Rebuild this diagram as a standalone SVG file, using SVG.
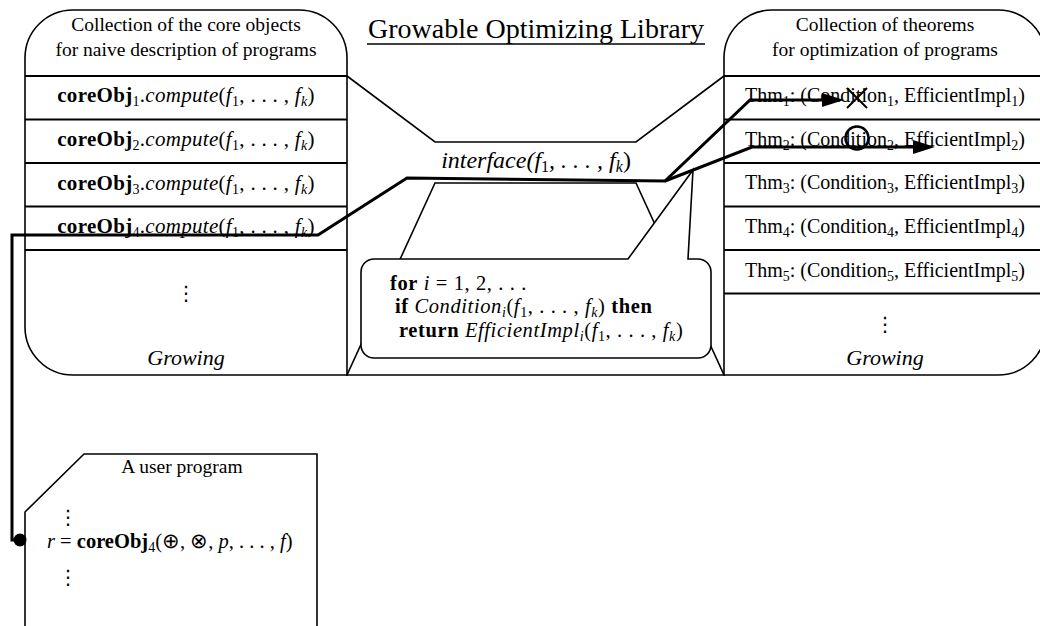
<svg xmlns="http://www.w3.org/2000/svg" width="1040" height="626" viewBox="0 0 1040 626">
  <style>
    .ln { fill: #fff; stroke: #000; stroke-width: 1.6; stroke-linejoin: miter; }
    .open { fill: none; stroke: #000; stroke-width: 1.6; }
    .row { stroke: #000; stroke-width: 1.8; }
    .t { font-family: "Liberation Serif", "Times New Roman", serif; font-size: 19.5px; fill: #000; }
    .m { font-size: 21px; letter-spacing: 0.3px; }
    .u { font-size: 20.5px; }
    .thm { font-size: 20px; }
    .code { font-size: 20.5px; letter-spacing: 0.6px; }
    .b { font-weight: bold; }
    .i { font-style: italic; }
    .sub { font-size: 14px; }
    .dots { font-family: "DejaVu Sans", sans-serif; font-size: 20px; fill: #000; }
    .wire { fill: none; stroke: #000; stroke-width: 3; stroke-linejoin: miter; }
  </style>
  <defs>
    <marker id="head" markerUnits="userSpaceOnUse" markerWidth="24" markerHeight="16" refX="10" refY="8" orient="auto" viewBox="0 0 24 16">
      <path d="M0,1 L22,8 L0,15 Z" fill="#000"/>
    </marker>
  </defs>

  <rect width="1040" height="626" fill="#fff"/>

  <!-- title -->
  <g id="title">
    <text class="t" x="536" y="38" text-anchor="middle" style="font-size:28px">Growable Optimizing Library</text>
    <line x1="367" y1="44" x2="705" y2="44" stroke="#000" stroke-width="1.6"/>
  </g>

  <!-- funnel between the two collections -->
  <g id="funnel">
    <polygon class="ln" points="435,183 636,183 724,375 347,375"/>
    <polyline class="open" points="347,76 435,142 636,142 724,76"/>
    <text class="t i" x="536" y="168" text-anchor="middle" style="font-size:24px">interface(<tspan>f</tspan><tspan style="font-style:normal;font-size:16px" dy="4">1</tspan><tspan dy="-4">, . . . , </tspan><tspan>f</tspan><tspan style="font-size:16px" dy="4">k</tspan><tspan dy="-4" style="font-style:normal">)</tspan></text>
  </g>

  <!-- collection of core objects -->
  <g id="core-objects">
    <path class="ln" d="M25,58 A48,48 0 0 1 73,10 L299,10 A48,48 0 0 1 347,58 L347,375 L73,375 A48,48 0 0 1 25,327 Z"/>
    <line class="row" x1="25" y1="76" x2="347" y2="76"/>
    <line class="row" x1="25" y1="119.5" x2="347" y2="119.5"/>
    <line class="row" x1="25" y1="163" x2="347" y2="163"/>
    <line class="row" x1="25" y1="206.5" x2="347" y2="206.5"/>
    <line class="row" x1="25" y1="250" x2="347" y2="250"/>
    <text class="t" x="186" y="31" text-anchor="middle">Collection of the core objects</text>
    <text class="t" x="186" y="56" text-anchor="middle">for naive description of programs</text>
    <text class="t m" x="186" y="102" text-anchor="middle"><tspan class="b">coreObj</tspan><tspan class="sub" dy="4">1</tspan><tspan dy="-4">.</tspan><tspan class="i">compute</tspan>(<tspan class="i">f</tspan><tspan class="sub" dy="4">1</tspan><tspan dy="-4">, . . . , </tspan><tspan class="i">f</tspan><tspan class="sub i" dy="4">k</tspan><tspan dy="-4">)</tspan></text>
    <text class="t m" x="186" y="146" text-anchor="middle"><tspan class="b">coreObj</tspan><tspan class="sub" dy="4">2</tspan><tspan dy="-4">.</tspan><tspan class="i">compute</tspan>(<tspan class="i">f</tspan><tspan class="sub" dy="4">1</tspan><tspan dy="-4">, . . . , </tspan><tspan class="i">f</tspan><tspan class="sub i" dy="4">k</tspan><tspan dy="-4">)</tspan></text>
    <text class="t m" x="186" y="190" text-anchor="middle"><tspan class="b">coreObj</tspan><tspan class="sub" dy="4">3</tspan><tspan dy="-4">.</tspan><tspan class="i">compute</tspan>(<tspan class="i">f</tspan><tspan class="sub" dy="4">1</tspan><tspan dy="-4">, . . . , </tspan><tspan class="i">f</tspan><tspan class="sub i" dy="4">k</tspan><tspan dy="-4">)</tspan></text>
    <text class="t m" x="186" y="233" text-anchor="middle"><tspan class="b">coreObj</tspan><tspan class="sub" dy="4">4</tspan><tspan dy="-4">.</tspan><tspan class="i">compute</tspan>(<tspan class="i">f</tspan><tspan class="sub" dy="4">1</tspan><tspan dy="-4">, . . . , </tspan><tspan class="i">f</tspan><tspan class="sub i" dy="4">k</tspan><tspan dy="-4">)</tspan></text>
    <text class="dots" x="186" y="300" text-anchor="middle">⋮</text>
    <text class="t i" x="186" y="365" text-anchor="middle" style="font-size:22px">Growing</text>
  </g>

  <!-- collection of theorems -->
  <g id="theorems">
    <path class="ln" d="M724,58 A48,48 0 0 1 772,10 L998,10 A48,48 0 0 1 1046,58 L1046,327 A48,48 0 0 1 998,375 L724,375 Z"/>
    <line class="row" x1="724" y1="76" x2="1046" y2="76"/>
    <line class="row" x1="724" y1="119.5" x2="1046" y2="119.5"/>
    <line class="row" x1="724" y1="163" x2="1046" y2="163"/>
    <line class="row" x1="724" y1="206.5" x2="1046" y2="206.5"/>
    <line class="row" x1="724" y1="250" x2="1046" y2="250"/>
    <line class="row" x1="724" y1="293.5" x2="1046" y2="293.5"/>
    <text class="t" x="885" y="31" text-anchor="middle">Collection of theorems</text>
    <text class="t" x="885" y="56" text-anchor="middle">for optimization of programs</text>
    <text class="t thm" x="885" y="102" text-anchor="middle">Thm<tspan class="sub" dy="4">1</tspan><tspan dy="-4">: (Condition</tspan><tspan class="sub" dy="4">1</tspan><tspan dy="-4">, EfficientImpl</tspan><tspan class="sub" dy="4">1</tspan><tspan dy="-4">)</tspan></text>
    <text class="t thm" x="885" y="146" text-anchor="middle">Thm<tspan class="sub" dy="4">2</tspan><tspan dy="-4">: (Condition</tspan><tspan class="sub" dy="4">2</tspan><tspan dy="-4">, EfficientImpl</tspan><tspan class="sub" dy="4">2</tspan><tspan dy="-4">)</tspan></text>
    <text class="t thm" x="885" y="189" text-anchor="middle">Thm<tspan class="sub" dy="4">3</tspan><tspan dy="-4">: (Condition</tspan><tspan class="sub" dy="4">3</tspan><tspan dy="-4">, EfficientImpl</tspan><tspan class="sub" dy="4">3</tspan><tspan dy="-4">)</tspan></text>
    <text class="t thm" x="885" y="233" text-anchor="middle">Thm<tspan class="sub" dy="4">4</tspan><tspan dy="-4">: (Condition</tspan><tspan class="sub" dy="4">4</tspan><tspan dy="-4">, EfficientImpl</tspan><tspan class="sub" dy="4">4</tspan><tspan dy="-4">)</tspan></text>
    <text class="t thm" x="885" y="277" text-anchor="middle">Thm<tspan class="sub" dy="4">5</tspan><tspan dy="-4">: (Condition</tspan><tspan class="sub" dy="4">5</tspan><tspan dy="-4">, EfficientImpl</tspan><tspan class="sub" dy="4">5</tspan><tspan dy="-4">)</tspan></text>
    <text class="dots" x="885" y="331" text-anchor="middle">⋮</text>
    <text class="t i" x="885" y="365" text-anchor="middle" style="font-size:22px">Growing</text>
  </g>

  <!-- callout: dispatch loop of the interface -->
  <g id="dispatch">
    <path class="ln" d="M374,259 L628,259 L693,170 L688,259 L698,259 A13,13 0 0 1 711,272 L711,345 A13,13 0 0 1 698,358 L374,358 A13,13 0 0 1 361,345 L361,272 A13,13 0 0 1 374,259 Z"/>
    <text class="t code" x="390" y="290"><tspan class="b">for</tspan> <tspan class="i">i</tspan> = 1, 2, . . .</text>
    <text class="t code" x="395" y="313"><tspan class="b">if</tspan> <tspan class="i">Condition</tspan><tspan class="sub i" dy="4">i</tspan><tspan dy="-4">(</tspan><tspan class="i">f</tspan><tspan class="sub" dy="4">1</tspan><tspan dy="-4">, . . . , </tspan><tspan class="i">f</tspan><tspan class="sub i" dy="4">k</tspan><tspan dy="-4">) </tspan><tspan class="b">then</tspan></text>
    <text class="t code" x="399" y="337"><tspan class="b">return</tspan> <tspan class="i">EfficientImpl</tspan><tspan class="sub i" dy="4">i</tspan><tspan dy="-4">(</tspan><tspan class="i">f</tspan><tspan class="sub" dy="4">1</tspan><tspan dy="-4">, . . . , </tspan><tspan class="i">f</tspan><tspan class="sub i" dy="4">k</tspan><tspan dy="-4">)</tspan></text>
  </g>

  <!-- user program -->
  <g id="user-program">
    <path class="ln" d="M25,627 L25,512 L84,454 L317,454 L317,627"/>
    <text class="t" x="182" y="473" text-anchor="middle">A user program</text>
    <text class="dots" x="68" y="524" text-anchor="middle">⋮</text>
    <text class="t u" x="47" y="548"><tspan class="i">r</tspan> = <tspan class="b">coreObj</tspan><tspan class="sub" dy="4">4</tspan><tspan dy="-4">(⊕, ⊗, </tspan><tspan class="i">p</tspan>, . . . , <tspan class="i">f</tspan>)</text>
    <text class="dots" x="68" y="584" text-anchor="middle">⋮</text>
  </g>

  <!-- connectors: call path from the user program into the library -->
  <g id="connectors">
    <path class="wire" d="M20,540 L12,540 L12,235 L318,235 L407,178 L665,181 L750,100 L832,100" marker-end="url(#head)"/>
    <path class="wire" d="M665,181 L752,147 L923,147" marker-end="url(#head)"/>
    <circle cx="20" cy="540" r="6.5" fill="#000"/>
    <path d="M847,88 L867,108 M847,108 L867,88" stroke="#000" stroke-width="2" fill="none"/>
    <circle cx="857" cy="138" r="11.5" fill="none" stroke="#000" stroke-width="2.5"/>
  </g>
</svg>
